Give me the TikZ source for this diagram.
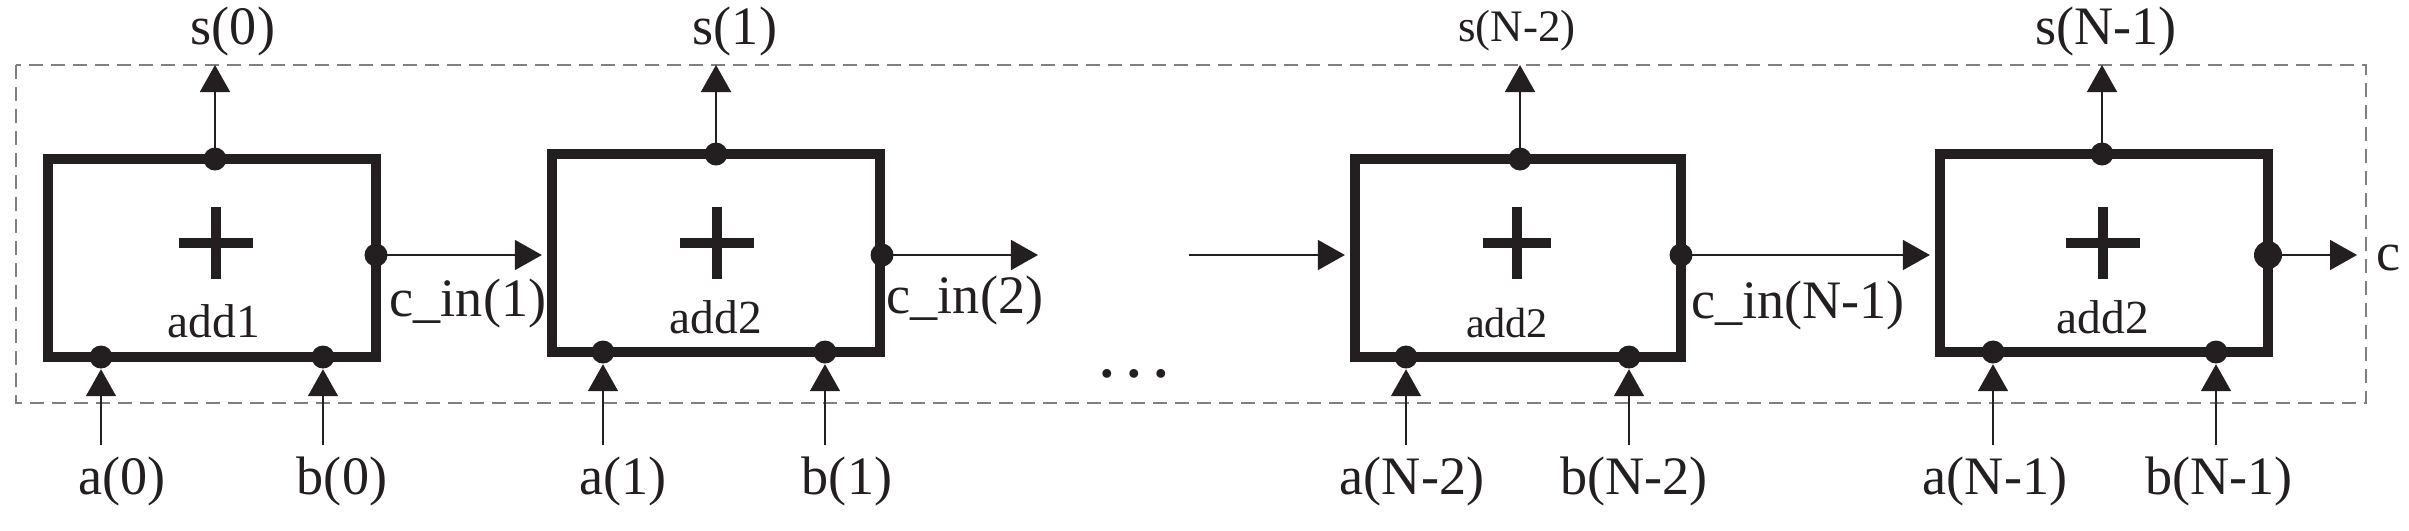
\documentclass[tikz,border=0pt]{standalone}
\usepackage{fontspec}
\setmainfont{Liberation Serif}
\usetikzlibrary{arrows.meta}
\definecolor{ink}{RGB}{35,31,32}
\begin{document}
\begin{tikzpicture}[x=0.01cm,y=-0.01cm,
  adder/.style={draw=ink, line width=0.1cm, minimum width=3.28cm, minimum height=1.97cm, inner sep=0pt},
  dotn/.style={circle, fill=ink, inner sep=0pt, minimum size=0.23cm},
  bigdot/.style={dotn, minimum size=0.28cm},
  wire/.style={draw=ink, line width=0.016cm, -{Triangle[length=0.27cm,width=0.30cm]}},
  lbl/.style={font=\fontsize{15.4}{18}\selectfont, inner sep=0pt, text=ink},
  smalllbl/.style={font=\fontsize{12.8}{15}\selectfont, inner sep=0pt, text=ink},
  addlbl/.style={font=\fontsize{13.5}{16}\selectfont, inner sep=0pt, text=ink, anchor=base},
  plusbar/.style={line width=0.1cm, draw=ink},
  frame/.style={draw=black!50, line width=0.02cm, dash pattern=on 0.14cm off 0.08cm}]
\useasboundingbox (0,0) rectangle (2409,530);

% dashed frame
\draw[frame] (16,65) rectangle (2366,403);

% adders
\node[adder] (b1) at (212,258) {};
\node[adder] (b2) at (716,253) {};
\node[adder, minimum width=3.26cm] (b3) at (1518,258) {};
\node[adder] (b4) at (2104,253) {};

% plus signs
\foreach \px/\py/\hw in {216/243/37, 717/243/37, 1517/243/34, 2103/243/37}{
  \draw[plusbar] (\px-\hw,\py) -- (\px+\hw,\py);
  \draw[plusbar] (\px,\py-36) -- (\px,\py+36);
}

% adder names
\node[addlbl] (n1) at (214,337) {add1};
\node[addlbl] (n2) at (716,333) {add2};
\node[addlbl, font=\fontsize{12}{14}\selectfont] (n3) at (1507,337) {add2};
\node[addlbl] (n4) at (2103,333) {add2};

% port dots
\node[dotn] (t1) at (215,159) {};
\node[dotn] (r1) at (376,255) {};
\node[dotn] (a1) at (101,357) {};
\node[dotn] (c1) at (323,357) {};

\node[dotn] (t2) at (716,154) {};
\node[dotn] (r2) at (882,255) {};
\node[dotn] (a2) at (603,352) {};
\node[dotn] (c2) at (825,352) {};

\node[dotn] (t3) at (1520,159) {};
\node[dotn] (r3) at (1681,255) {};
\node[dotn] (a3) at (1406,357) {};
\node[dotn] (c3) at (1629,357) {};

\node[dotn] (t4) at (2102,154) {};
\node[bigdot] (r4) at (2268,255) {};
\node[dotn] (a4) at (1993,352) {};
\node[dotn] (c4) at (2216,352) {};

% free ends
\coordinate (s1e) at (215,65);
\coordinate (s2e) at (716,65);
\coordinate (s3e) at (1520,65);
\coordinate (s4e) at (2102,65);
\coordinate (a1s) at (101,445);
\coordinate (c1s) at (323,445);
\coordinate (a2s) at (603,445);
\coordinate (c2s) at (825,445);
\coordinate (a3s) at (1406,445);
\coordinate (c3s) at (1629,445);
\coordinate (a4s) at (1993,445);
\coordinate (c4s) at (2216,445);
\coordinate (co2) at (1038,255);
\coordinate (ci3) at (1189,255);
\coordinate (cout) at (2357,255);

% sum outputs
\draw[wire] (t1.center) -- (s1e);
\draw[wire] (t2.center) -- (s2e);
\draw[wire] (t3.center) -- (s3e);
\draw[wire] (t4.center) -- (s4e);

% operand inputs
\foreach \s/\d in {a1s/a1, c1s/c1, a2s/a2, c2s/c2, a3s/a3, c3s/c3, a4s/a4, c4s/c4}{
  \draw[wire] (\s) -- (\d.south);
}

% carries
\draw[wire] (r1.center) -- ([xshift=-0.05cm]r1.center -| b2.west);
\draw[wire] (r2.center) -- (co2);
\draw[wire] (ci3) -- ([xshift=-0.05cm]ci3 -| b3.west);
\draw[wire] (r3.center) -- ([xshift=-0.05cm]r3.center -| b4.west);
\draw[wire] (r4.center) -- (cout);

% labels
\node[lbl] (ls1) at (233,31) {s(0)};
\node[lbl] (ls2) at (735,31) {s(1)};
\node[smalllbl] (ls3) at (1517,31) {s(N-2)};
\node[lbl] (ls4) at (2106,31) {s(N-1)};

\node[lbl] (la1) at (122,481) {a(0)};
\node[lbl] (lb1) at (342,481) {b(0)};
\node[lbl] (la2) at (623,481) {a(1)};
\node[lbl] (lb2) at (847,481) {b(1)};
\node[lbl] (la3) at (1412,481) {a(N-2)};
\node[lbl] (lb3) at (1634,481) {b(N-2)};
\node[lbl] (la4) at (1995,481) {a(N-1)};
\node[lbl] (lb4) at (2219,481) {b(N-1)};

\node[lbl] (lc1) at (468,303) {c\_in(1)};
\node[lbl] (lc2) at (965,300) {c\_in(2)};
\node[lbl] (lc3) at (1798,305) {c\_in(N-1)};
\node[lbl] (lc) at (2388,258) {c};

\node[lbl, anchor=base, font=\fontsize{15.4}{18}\selectfont\bfseries] (dots) at (1134,377) {.\ .\ .};
\end{tikzpicture}
\end{document}
